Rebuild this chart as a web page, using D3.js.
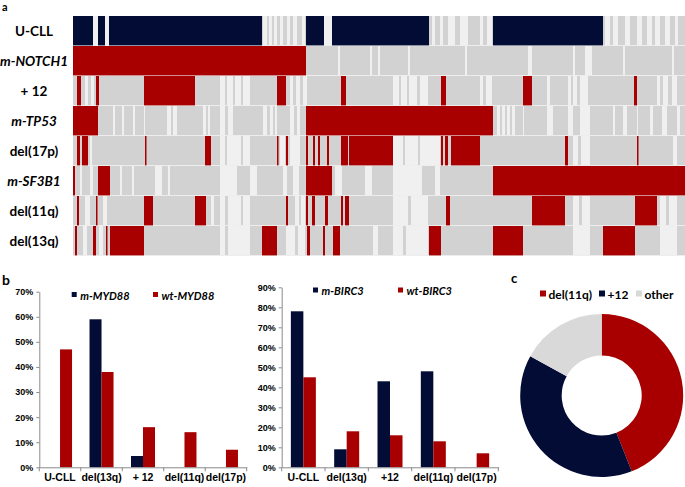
<!DOCTYPE html>
<html>
<head>
<meta charset="utf-8">
<script src="https://cdn.jsdelivr.net/npm/d3@7"></script>
<style>
  body { margin: 0; background: #fff; }
  svg { display: block; font-family: Lato, "Open Sans", sans-serif; }
</style>
</head>
<body>
<div id="chart"></div>
<script>
// ---- panel a: one run list per alteration, in patient index units ----
const nPatients = 612;
const rowLabels = ["U-CLL", "m-NOTCH1", "+ 12", "m-TP53", "del(17p)", "m-SF3B1", "del(11q)", "del(13q)"];

// runs where the alteration is present [from, to]
const ucllRuns = [[0, 20], [25, 32], [36, 189], [233, 251], [259, 356], [420, 530]];
const notch1Runs = [[0, 233]];
const tri12Runs = [[4, 8], [23, 26], [71, 122], [204, 213], [268, 273], [368, 373], [450, 459], [561, 564]];
const tp53Runs = [[0, 25], [233, 420]];
const del17pRuns = [[4, 7], [9, 15], [72, 73.5], [132, 138], [204, 205.5], [213, 215], [233, 235], [240, 242], [245, 247],
  [254, 256], [268, 275], [276, 320], [368, 370], [372, 375], [378, 407], [492, 495], [564, 565.5]];
const sf3b1Runs = [[0, 2], [25, 37], [233, 259], [420, 612]];
const del11qRuns = [[4, 6], [23, 24.5], [71, 80], [122, 133], [213, 215], [233, 235], [239, 242], [252, 255],
  [268, 270], [272, 276], [373, 377], [459, 492], [562, 584]];
const del13qRuns = [[2, 4], [20, 23], [33, 34.5], [37, 71], [189, 204], [234, 237], [250, 252], [260, 267],
  [356, 368], [420, 450], [530, 562]];

// runs with no data (very light stripes)
const ucllNa = [[20, 25], [32, 36], [190, 194], [196, 199], [201, 204], [207, 210], [214, 217], [220, 224], [229, 232],
  [251, 259], [359, 362], [367, 370], [375, 382], [387, 395], [407, 410], [414, 419], [532, 537], [540, 545],
  [552, 557], [564, 569], [574, 579], [582, 587], [592, 597], [602, 605]];
const notch1Na = [[265, 267], [297, 299], [305, 307], [335, 337], [392, 394], [455, 459], [500, 502], [512, 519],
  [550, 552], [599, 601]];
const tri12Na = [[12, 15], [18, 21], [147, 152], [154, 160], [162, 168], [170, 177], [217, 220], [223, 227], [230, 234],
  [320, 326], [328, 334], [336, 344], [347, 355], [407, 410], [413, 419], [474, 477], [495, 498], [500, 504],
  [507, 515], [584, 587], [590, 595], [599, 604]];
const tp53Na = [[40, 42], [49, 51], [60, 62], [71, 72], [94, 98], [100, 104], [130, 133], [135, 137], [147, 152],
  [155, 160], [190, 194], [197, 200], [202, 204], [217, 221], [224, 227], [424, 427], [429, 432], [434, 437],
  [439, 442], [450, 451], [474, 480], [495, 500], [507, 517], [540, 542], [550, 554], [564, 565], [577, 580],
  [589, 594], [604, 607]];
const del17pNa = [[17, 19], [147, 152], [154, 168], [170, 177], [207, 212], [217, 227], [320, 330], [332, 345],
  [347, 367], [500, 505], [508, 517], [600, 604]];
const sf3b1Na = [[7, 9], [17, 20], [47, 49], [59, 61], [82, 89], [95, 97], [147, 164], [177, 184], [210, 214],
  [220, 226], [262, 269], [292, 299], [320, 349], [362, 367]];
const del11qNa = [[12, 17], [30, 34], [138, 141], [147, 152], [155, 168], [170, 177], [222, 226], [228, 232],
  [320, 335], [338, 355], [500, 506], [509, 517], [587, 593], [596, 604]];
const del13qNa = [[10, 14], [26, 30], [147, 152], [155, 177], [213, 222], [225, 232], [300, 305], [320, 330],
  [333, 355], [500, 517], [587, 604]];

// ---- panel b ----
const myd88Categories = ["U-CLL", "del(13q)", "+ 12", "del(11q)", "del(17p)"];
const myd88Series = ["m-MYD88", "wt-MYD88"];
const mMyd88 = [0, 59, 4.5, 0, 0];
const wtMyd88 = [47, 38, 16, 14, 7];

const birc3Categories = ["U-CLL", "del(13q)", "+12", "del(11q)", "del(17p)"];
const birc3Series = ["m-BIRC3", "wt-BIRC3"];
const mBirc3 = [78, 9, 43, 48, 0];
const wtBirc3 = [45, 18, 16, 13, 7];

// ---- panel c ----
const donutLabels = ["del(11q)", "+12", "other"];
const donutValues = [44, 39, 17];

const navy = "#020c35", red = "#a80000", gray = "#d2d2d2", light = "#f0f0f0";

const svg = d3.select("#chart").append("svg")
    .attr("width", 685)
    .attr("height", 487);

// ================= panel a =================
const heatRows = [
    {label: rowLabels[0], on: ucllRuns, na: ucllNa},
    {label: rowLabels[1], on: notch1Runs, na: notch1Na},
    {label: rowLabels[2], on: tri12Runs, na: tri12Na},
    {label: rowLabels[3], on: tp53Runs, na: tp53Na},
    {label: rowLabels[4], on: del17pRuns, na: del17pNa},
    {label: rowLabels[5], on: sf3b1Runs, na: sf3b1Na},
    {label: rowLabels[6], on: del11qRuns, na: del11qNa},
    {label: rowLabels[7], on: del13qRuns, na: del13qNa}
];

const xHeat = d3.scaleLinear().domain([0, nPatients]).range([73, 685]);
const yHeat = d3.scaleBand().domain(rowLabels).range([16, 256]);

const heat = svg.append("g");
heatRows.forEach((row, i) => {
    const g = heat.append("g");
    const y = yHeat(row.label), h = yHeat.bandwidth() - 0.6;
    g.append("rect")
        .attr("x", xHeat(0)).attr("y", y)
        .attr("width", xHeat(nPatients) - xHeat(0)).attr("height", h)
        .attr("fill", gray);
    g.selectAll(".na").data(row.na).join("rect")
        .attr("x", d => xHeat(d[0])).attr("y", y)
        .attr("width", d => xHeat(d[1]) - xHeat(d[0])).attr("height", h)
        .attr("fill", light);
    g.selectAll(".on").data(row.on).join("rect")
        .attr("x", d => xHeat(d[0])).attr("y", y)
        .attr("width", d => xHeat(d[1]) - xHeat(d[0])).attr("height", h)
        .attr("fill", i === 0 ? navy : red);
});

heat.selectAll(".rowlab").data(rowLabels).join("text")
    .attr("x", 34)
    .attr("y", d => yHeat(d) + yHeat.bandwidth() / 2 + 5)
    .attr("text-anchor", "middle")
    .style("font-size", "13.5px")
    .style("font-weight", "bold")
    .style("font-style", d => d.startsWith("m-") ? "italic" : "normal")
    .text(d => d);

// panel letters
svg.append("text").attr("x", 2).attr("y", 11).style("font-size", "11px").style("font-weight", "bold").text("a");
svg.append("text").attr("x", 2).attr("y", 285).style("font-size", "14px").style("font-weight", "bold").text("b");
svg.append("text").attr("x", 511).attr("y", 283).style("font-size", "13px").style("font-weight", "bold").text("c");

// ================= panel b =================
function barChart(cfg) {
    const g = svg.append("g");
    const x = d3.scaleBand().domain(cfg.categories).range([cfg.x0, cfg.x1]);
    const barW = cfg.barW;
    const xSub = d3.scaleBand().domain(cfg.series)
        .range([x.bandwidth() / 2 - barW, x.bandwidth() / 2 + barW]);
    const y = d3.scaleLinear().domain([0, cfg.max]).range([cfg.y0, cfg.y1]);
    const colors = [navy, red];

    cfg.values.forEach((vals, s) => {
        g.selectAll(".b" + s).data(vals).join("rect")
            .attr("x", (d, i) => x(cfg.categories[i]) + xSub(cfg.series[s]))
            .attr("y", d => y(d))
            .attr("width", xSub.bandwidth())
            .attr("height", d => y(0) - y(d))
            .attr("fill", colors[s]);
    });

    const yAxis = g.append("g")
        .attr("transform", `translate(${cfg.x0},0)`)
        .call(d3.axisLeft(y).tickValues(d3.range(0, cfg.max + 1, 10)).tickFormat(d => d + "%").tickSize(3).tickSizeOuter(0));
    yAxis.selectAll("text").style("font-size", "9px").style("font-weight", "bold").attr("fill", "#000").attr("x", -6);

    const xAxis = g.append("g")
        .attr("transform", `translate(0,${cfg.y0})`)
        .call(d3.axisBottom(x).tickSize(0).tickSizeOuter(0));
    xAxis.selectAll("text").style("font-size", "10.5px").style("font-weight", "bold").attr("fill", "#000").attr("dy", "0.71em").attr("y", 6);
    xAxis.selectAll(".bound").data(d3.range(cfg.categories.length + 1)).join("line")
        .attr("x1", i => cfg.x0 + i * x.bandwidth()).attr("x2", i => cfg.x0 + i * x.bandwidth())
        .attr("y1", 0).attr("y2", 4).attr("stroke", "#8a8a8a");
    g.selectAll(".domain, .tick line").attr("stroke", "#8a8a8a");

    cfg.series.forEach((name, s) => {
        g.append("rect").attr("x", cfg.legendX[s]).attr("y", cfg.legendY - 7.5)
            .attr("width", 5).attr("height", 5).attr("fill", colors[s]);
        g.append("text").attr("x", cfg.legendX[s] + 8.5).attr("y", cfg.legendY)
            .style("font-size", "11px").style("font-weight", "bold").style("font-style", "italic")
            .text(name);
    });
}

barChart({
    categories: myd88Categories, series: myd88Series, values: [mMyd88, wtMyd88], max: 70,
    x0: 39.3, x1: 246.7, y0: 467.3, y1: 291.7, barW: 12,
    legendX: [71.7, 153], legendY: 299.5
});

barChart({
    categories: birc3Categories, series: birc3Series, values: [mBirc3, wtBirc3], max: 90,
    x0: 281.7, x1: 498.3, y0: 467.3, y1: 287.3, barW: 12.5,
    legendX: [313, 398], legendY: 295
});

// ================= panel c =================
const pie = d3.pie().sort(null).value(d => d);
const arc = d3.arc().innerRadius(40).outerRadius(81.5);
const donutColors = [red, navy, "#d9d9d9"];
svg.append("g")
    .attr("transform", "translate(601.7,395.5)")
    .selectAll("path").data(pie(donutValues)).join("path")
    .attr("d", arc)
    .attr("fill", (d, i) => donutColors[i]);

const legC = svg.append("g");
const legCX = [540, 599, 636];
donutLabels.forEach((name, i) => {
    legC.append("rect").attr("x", legCX[i]).attr("y", 290.5).attr("width", 6).attr("height", 6).attr("fill", donutColors[i]);
    legC.append("text").attr("x", legCX[i] + 8.5).attr("y", 299)
        .style("font-size", "12px").style("font-weight", "bold").text(name);
});
</script>
</body>
</html>
